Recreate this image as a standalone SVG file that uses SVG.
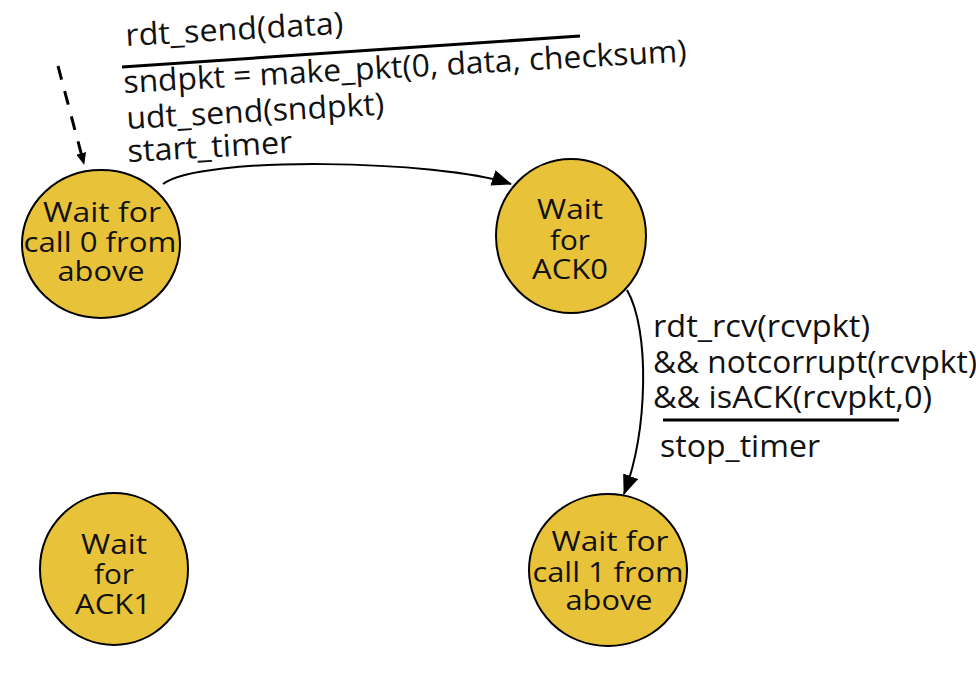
<svg xmlns="http://www.w3.org/2000/svg" width="976" height="688" viewBox="0 0 976 688">
<style>
.t{font-family:"Open Sans","Noto Sans",sans-serif;font-size:31px;fill:#111;}
.n{font-family:"Open Sans","Noto Sans",sans-serif;font-size:28px;fill:#111;text-anchor:middle;}
.st{fill:#E8C33A;stroke:#000;stroke-width:2;}
.e{fill:none;stroke:#000;stroke-width:2;}
.d{fill:none;stroke:#000;stroke-width:3;stroke-dasharray:14,12;}
.bar{stroke:#000;stroke-width:3;}
</style>
<defs>
<marker id="ah" viewBox="0 0 20 16" refX="19" refY="8" markerWidth="20" markerHeight="16" markerUnits="userSpaceOnUse" orient="auto">
<path d="M0,0 L20,8 L0,16 Z" fill="#000"/>
</marker>
<marker id="ahs" viewBox="0 0 12 10" refX="11" refY="5" markerWidth="12" markerHeight="10" markerUnits="userSpaceOnUse" orient="auto">
<path d="M0,0 L12,5 L0,10 Z" fill="#000"/>
</marker>
</defs>
<rect width="976" height="688" fill="#fff"/>

<g id="connectors">
<path class="d" d="M58,66 L84,164" marker-end="url(#ahs)"/>
<path class="e" d="M163,184 C200,155 440,160 511,184" marker-end="url(#ah)"/>
<path class="e" d="M627,290 C650,330 648,430 624,494" marker-end="url(#ah)"/>
</g>

<g id="label-top">
<text class="t" x="126" y="46" transform="rotate(-3.2 126 46)" textLength="218" lengthAdjust="spacingAndGlyphs">rdt_send(data)</text>
<line class="bar" x1="122" y1="67" x2="580" y2="36"/>
<text class="t" x="124" y="93" transform="rotate(-3.2 124 93)" textLength="564" lengthAdjust="spacingAndGlyphs">sndpkt = make_pkt(0, data, checksum)</text>
<text class="t" x="127" y="129" transform="rotate(-3.2 127 129)" textLength="258" lengthAdjust="spacingAndGlyphs">udt_send(sndpkt)</text>
<text class="t" x="128" y="162" transform="rotate(-3.2 128 162)" textLength="165" lengthAdjust="spacingAndGlyphs">start_timer</text>
</g>

<g id="label-right">
<text class="t" x="653" y="337" textLength="217" lengthAdjust="spacingAndGlyphs">rdt_rcv(rcvpkt)</text>
<text class="t" x="653" y="373" textLength="324" lengthAdjust="spacingAndGlyphs">&amp;&amp; notcorrupt(rcvpkt)</text>
<text class="t" x="653" y="408" textLength="279" lengthAdjust="spacingAndGlyphs">&amp;&amp; isACK(rcvpkt,0)</text>
<line class="bar" x1="663" y1="420" x2="899" y2="420"/>
<text class="t" x="660" y="457" textLength="160" lengthAdjust="spacingAndGlyphs">stop_timer</text>
</g>

<g id="s-call0">
<ellipse class="st" cx="101" cy="244" rx="79" ry="74"/>
<text class="n" x="102" y="222" textLength="118" lengthAdjust="spacingAndGlyphs">Wait for</text>
<text class="n" x="100" y="252" textLength="153" lengthAdjust="spacingAndGlyphs">call 0 from</text>
<text class="n" x="101" y="281" textLength="87" lengthAdjust="spacingAndGlyphs">above</text>
</g>

<g id="s-ack0">
<ellipse class="st" cx="571" cy="236" rx="75" ry="77"/>
<text class="n" x="570" y="219" textLength="66" lengthAdjust="spacingAndGlyphs">Wait</text>
<text class="n" x="570" y="250" textLength="40" lengthAdjust="spacingAndGlyphs">for</text>
<text class="n" x="570" y="279" textLength="76" lengthAdjust="spacingAndGlyphs">ACK0</text>
</g>

<g id="s-ack1">
<ellipse class="st" cx="114" cy="569" rx="74" ry="76"/>
<text class="n" x="114" y="554" textLength="66" lengthAdjust="spacingAndGlyphs">Wait</text>
<text class="n" x="114" y="584" textLength="40" lengthAdjust="spacingAndGlyphs">for</text>
<text class="n" x="113" y="614" textLength="76" lengthAdjust="spacingAndGlyphs">ACK1</text>
</g>

<g id="s-call1">
<ellipse class="st" cx="608" cy="570" rx="79" ry="76"/>
<text class="n" x="610" y="551" textLength="117" lengthAdjust="spacingAndGlyphs">Wait for</text>
<text class="n" x="608" y="582" textLength="151" lengthAdjust="spacingAndGlyphs">call 1 from</text>
<text class="n" x="609" y="610" textLength="87" lengthAdjust="spacingAndGlyphs">above</text>
</g>
</svg>
